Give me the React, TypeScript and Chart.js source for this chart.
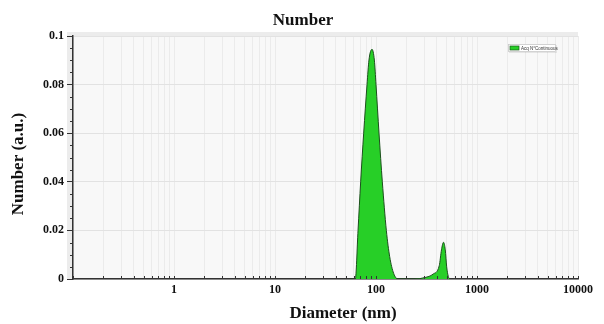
import React, { useEffect, useRef } from 'react';
import { Chart, registerables } from 'chart.js';

Chart.register(...registerables);

// ---- data ----
const diameters = [55, 62.4, 66.4, 70.5, 75.5, 81.5, 85.2, 91.3, 96.3, 100, 107.1, 115.5, 126.6, 136.6, 149.6, 165, 243, 305, 367, 423, 445, 466, 485, 501, 520, 540];
const numbers = [0, 0, 0.02, 0.04, 0.06, 0.08, 0.0901, 0.0945, 0.0901, 0.08, 0.06, 0.04, 0.02, 0.0092, 0.0023, 0, 0, 0.0006, 0.002, 0.0055, 0.012, 0.0151, 0.012, 0.005, 0.001, 0];
const xMajor = [1, 10, 100, 1000, 10000];
const xTickLabels = ['1', '10', '100', '1000', '10000'];
const yTickValues = [0, 0.02, 0.04, 0.06, 0.08, 0.1];
const yTickLabels = ['0', '0.02', '0.04', '0.06', '0.08', '0.1'];
const seriesLabel = 'Acq N°Continuous';
const chartTitle = 'Number';
const xTitle = 'Diameter (nm)';
const yTitle = 'Number (a.u.)';

const GREEN = '#27cf27';
const SERIF = '"Liberation Serif", "DejaVu Serif", serif';

export default function App() {
  const ref = useRef<HTMLCanvasElement | null>(null);

  useEffect(() => {
    document.body.style.margin = '0';
    const canvas = ref.current!;

    const xGridVals: number[] = [];
    for (let n = -1; n <= 3; n++) {
      for (let k = 1; k <= 9; k++) xGridVals.push(Number((k * Math.pow(10, n)).toPrecision(6)));
    }
    xGridVals.push(10000);

    const decor = {
      id: 'decor',
      beforeDraw(chart: any) {
        const { ctx, chartArea: a } = chart;
        ctx.save();
        ctx.fillStyle = '#ececec';
        ctx.fillRect(a.left - 6, a.top - 4, a.right - a.left + 6, 4);
        ctx.fillRect(a.left - 6, a.top - 4, 6, a.bottom - a.top + 4);
        ctx.fillStyle = '#f8f8f8';
        ctx.fillRect(a.left, a.top, a.right - a.left, a.bottom - a.top);
        ctx.restore();
      },
      afterDraw(chart: any) {
        const { ctx, chartArea: a, scales } = chart;
        const xs = scales.x;
        const ys = scales.y;
        ctx.save();
        // x inner ticks
        ctx.strokeStyle = '#333';
        ctx.lineWidth = 1;
        ctx.beginPath();
        xGridVals.forEach((v) => {
          const px = Math.round(xs.getPixelForValue(v)) + 0.5;
          ctx.moveTo(px, a.bottom);
          ctx.lineTo(px, a.bottom - 3);
        });
        ctx.stroke();
        // y minor ticks (outside)
        ctx.beginPath();
        for (let i = 1; i < 20; i++) {
          if (i % 4 === 0) continue;
          const py = Math.round(ys.getPixelForValue(i * 0.005)) + 0.5;
          ctx.moveTo(a.left, py);
          ctx.lineTo(a.left - 3, py);
        }
        ctx.stroke();

        // legend box
        const lx = a.right - 70, ly = a.top + 8, lw = 48, lh = 8;
        ctx.fillStyle = 'rgba(0,0,0,0.08)';
        ctx.fillRect(lx + 1, ly + 1, lw, lh);
        ctx.fillStyle = '#ffffff';
        ctx.fillRect(lx, ly, lw, lh);
        ctx.strokeStyle = '#c8c8c8';
        ctx.lineWidth = 0.8;
        ctx.strokeRect(lx + 0.5, ly + 0.5, lw - 1, lh - 1);
        ctx.fillStyle = GREEN;
        ctx.fillRect(lx + 2, ly + 2, 9, 4);
        ctx.strokeStyle = '#1c5a1c';
        ctx.lineWidth = 0.7;
        ctx.strokeRect(lx + 2, ly + 2, 9, 4);
        ctx.fillStyle = '#333';
        ctx.font = '4.5px "Liberation Sans", Arial, sans-serif';
        ctx.textBaseline = 'middle';
        ctx.textAlign = 'left';
        ctx.fillText(seriesLabel, lx + 13, ly + lh / 2 + 0.3);

        // titles
        ctx.fillStyle = '#111';
        ctx.font = `bold 17px ${SERIF}`;
        ctx.textAlign = 'center';
        ctx.textBaseline = 'alphabetic';
        ctx.fillText(chartTitle, 303, 25);
        ctx.fillText(xTitle, 343, 318);
        ctx.translate(22.5, 164);
        ctx.rotate(-Math.PI / 2);
        ctx.fillText(yTitle, 0, 0);
        ctx.restore();
      },
    };

    const chart = new Chart(canvas, {
      type: 'line',
      data: {
        datasets: [
          {
            label: seriesLabel,
            data: diameters.map((d, i) => ({ x: d, y: numbers[i] })),
            borderColor: '#1c4f1c',
            borderWidth: 1,
            backgroundColor: GREEN,
            fill: 'origin',
            pointRadius: 0,
            cubicInterpolationMode: 'monotone',
          },
        ],
      },
      options: {
        animation: false,
        responsive: false,
        devicePixelRatio: 1,
        layout: { padding: { left: 0, top: 36, right: 26, bottom: 0 } },
        plugins: {
          legend: { display: false },
          title: { display: false },
          tooltip: { enabled: false },
        },
        scales: {
          x: {
            type: 'logarithmic',
            min: 0.1,
            max: 10000,
            afterBuildTicks: (scale: any) => {
              scale.ticks = xGridVals.map((v) => ({ value: v, major: xMajor.includes(v) }));
            },
            afterFit: (scale: any) => {
              scale.height = 45;
            },
            ticks: {
              autoSkip: false,
              maxRotation: 0,
              padding: 4,
              color: '#111',
              font: { family: SERIF, size: 12, weight: 'bold' },
              callback: (value: any) => {
                const i = xMajor.indexOf(Number(value));
                return i >= 0 ? xTickLabels[i] : '';
              },
            },
            grid: { color: '#ebebeb', lineWidth: 1, drawTicks: false },
            border: { color: '#333', width: 1.5 },
          },
          y: {
            type: 'linear',
            min: 0,
            max: 0.1,
            afterBuildTicks: (scale: any) => {
              scale.ticks = yTickValues.map((v) => ({ value: v }));
            },
            afterFit: (scale: any) => {
              scale.width = 73;
            },
            ticks: {
              padding: 3,
              color: '#111',
              font: { family: SERIF, size: 12, weight: 'bold' },
              callback: (value: any) => {
                const i = yTickValues.findIndex((t) => Math.abs(t - Number(value)) < 1e-9);
                return i >= 0 ? yTickLabels[i] : '';
              },
            },
            grid: { color: '#e2e2e2', lineWidth: 1, tickLength: 6, tickColor: '#333', drawTicks: true },
            border: { color: '#333', width: 1.5 },
          },
        },
      },
      plugins: [decor],
    } as any);

    return () => chart.destroy();
  }, []);

  return (
    <div style={{ width: 604, height: 324 }}>
      <canvas ref={ref} width={604} height={324} style={{ display: 'block' }} />
    </div>
  );
}
